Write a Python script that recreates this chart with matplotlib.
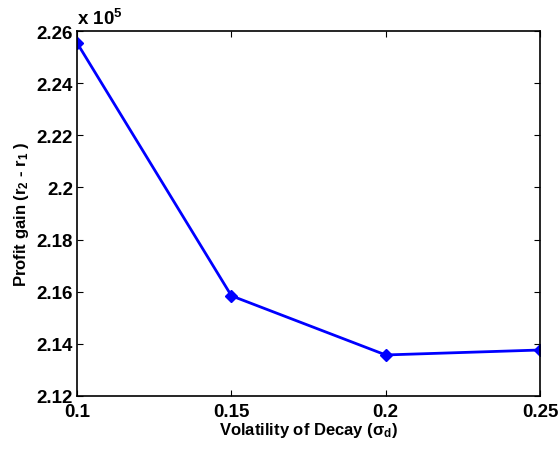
import matplotlib
matplotlib.use("Agg")
import matplotlib.pyplot as plt

x_vals = [0.1, 0.15, 0.2, 0.25]
profit_gain = [2.2554, 2.1584, 2.1357, 2.1376]  # in units of 1e5
x_ticks = [0.1, 0.15, 0.2, 0.25]
x_ticklabels = ["0.1", "0.15", "0.2", "0.25"]
y_ticks = [2.12, 2.14, 2.16, 2.18, 2.2, 2.22, 2.24, 2.26]
y_ticklabels = ["2.12", "2.14", "2.16", "2.18", "2.2", "2.22", "2.24", "2.26"]

plt.rcParams['font.family'] = ['Liberation Sans', 'DejaVu Sans']
plt.rcParams['mathtext.fontset'] = 'custom'
plt.rcParams['mathtext.rm'] = 'Liberation Sans:bold'
plt.rcParams['mathtext.it'] = 'Liberation Sans:bold'
plt.rcParams['mathtext.bf'] = 'Liberation Sans:bold'

fig = plt.figure(figsize=(5.59, 4.52), dpi=100)
ax = fig.add_axes([0.138, 0.122, 0.828, 0.807])
ax.plot(x_vals, profit_gain, color='#0000ff', lw=2, marker='D', markersize=6.5)
ax.set_xlim(0.1, 0.25)
ax.set_ylim(2.12, 2.26)
ax.set_xticks(x_ticks)
ax.set_xticklabels(x_ticklabels)
ax.set_yticks(y_ticks)
ax.set_yticklabels(y_ticklabels)
ax.tick_params(direction='in', top=True, right=True, labelsize=13.5, length=4, width=0.8)
ax.tick_params(axis='x', pad=5)
ax.tick_params(axis='y', pad=3)
for lab in ax.get_xticklabels() + ax.get_yticklabels():
    lab.set_fontweight('bold')
for s in ax.spines.values():
    s.set_linewidth(1.2)
ax.set_xlabel(r'Volatility of Decay ($\sigma_d$)', fontsize=12, fontweight='bold', labelpad=0)
ax.set_ylabel(r'Profit gain (r$_2$ - r$_1$ )', fontsize=12, fontweight='bold', labelpad=4)
ax.text(0.0, 1.008, r'x 10$^5$', transform=ax.transAxes, fontsize=13.5, fontweight='bold',
        ha='left', va='bottom')
fig.savefig('out.png', dpi=100)
